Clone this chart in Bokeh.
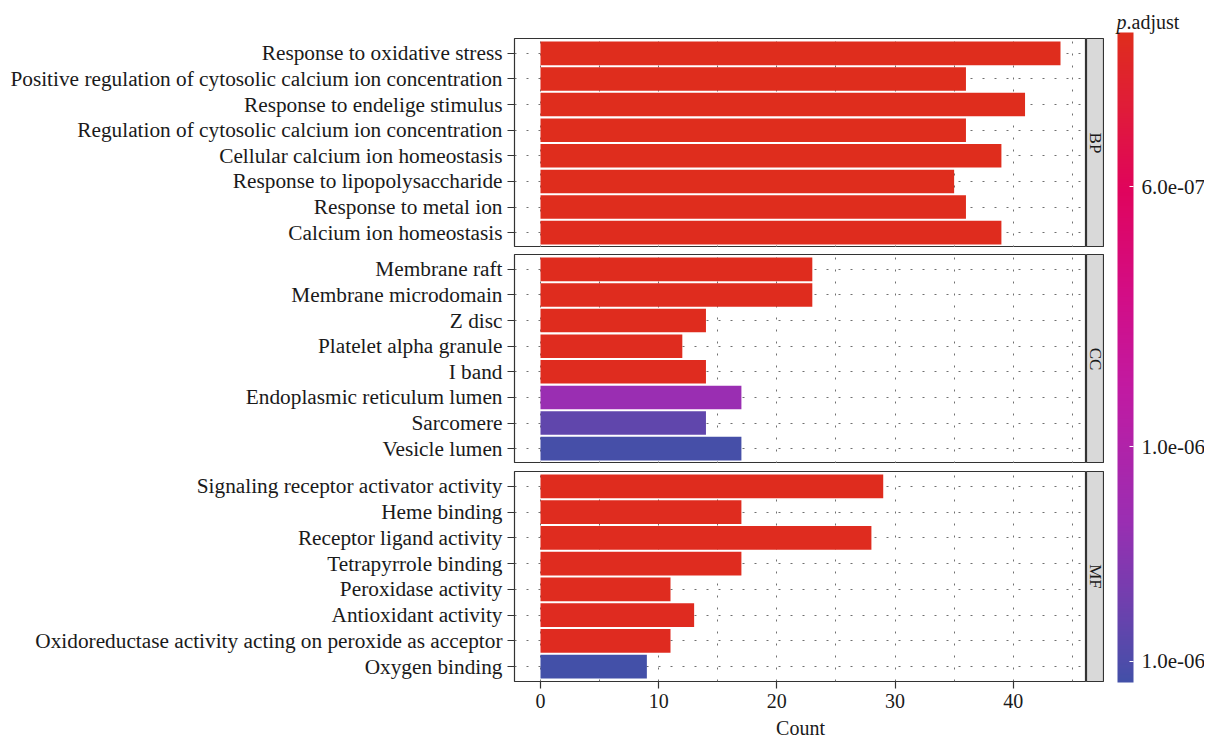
import numpy as np
import pandas as pd
from bokeh.plotting import figure
from bokeh.models import (ColumnDataSource, FactorRange, Range1d, LinearColorMapper,
                          ColorBar, FixedTicker, Label, AllLabels)
from bokeh.layouts import row, column
from bokeh.transform import transform
from bokeh.embed import file_html
from bokeh.resources import INLINE
from bokeh.core.properties import value

# ---------------- data ----------------
bp_terms = ["Response to oxidative stress",
            "Positive regulation of cytosolic calcium ion concentration",
            "Response to endelige stimulus",
            "Regulation of cytosolic calcium ion concentration",
            "Cellular calcium ion homeostasis",
            "Response to lipopolysaccharide",
            "Response to metal ion",
            "Calcium ion homeostasis"]
bp_counts = [44, 36, 41, 36, 39, 35, 36, 39]
bp_padj = [3.63e-7, 3.64e-7, 3.64e-7, 3.65e-7, 3.65e-7, 3.66e-7, 3.66e-7, 3.67e-7]

cc_terms = ["Membrane raft", "Membrane microdomain", "Z disc", "Platelet alpha granule",
            "I band", "Endoplasmic reticulum lumen", "Sarcomere", "Vesicle lumen"]
cc_counts = [23, 23, 14, 12, 14, 17, 14, 17]
cc_padj = [3.68e-7, 3.68e-7, 3.70e-7, 3.72e-7, 3.72e-7, 1.113e-6, 1.283e-6, 1.355e-6]

mf_terms = ["Signaling receptor activator activity", "Heme binding",
            "Receptor ligand activity", "Tetrapyrrole binding", "Peroxidase activity",
            "Antioxidant activity",
            "Oxidoreductase activity acting on peroxide as acceptor", "Oxygen binding"]
mf_counts = [29, 17, 28, 17, 11, 13, 11, 9]
mf_padj = [3.70e-7, 3.72e-7, 3.72e-7, 3.73e-7, 3.74e-7, 3.75e-7, 3.76e-7, 1.363e-6]

facets = ["BP", "CC", "MF"]
x_ticks = [0, 10, 20, 30, 40]
x_minor = [5, 15, 25, 35, 45]
cbar_ticks = [6.0e-7, 1.0e-6, 1.33e-6]
cbar_labels = ["6.0e-07", "1.0e-06", "1.0e-06"]

# ---------------- styling helpers ----------------
FONT = "Liberation Serif"
TXT = "#1a1a1a"
GRID = "#707070"
anchors = [(0.00, "#DF2D1D"), (0.12, "#E01B3A"), (0.24, "#E0045C"), (0.40, "#D30D85"),
           (0.55, "#C11AA2"), (0.75, "#9B2EB2"), (0.88, "#6F40AE"), (1.00, "#4350A8")]


def hex2rgb(h):
    return [int(h[i:i + 2], 16) for i in (1, 3, 5)]


def build_palette(n=256):
    pos = [a[0] for a in anchors]
    cols = np.array([hex2rgb(a[1]) for a in anchors], dtype=float)
    out = []
    for t in np.linspace(0, 1, n):
        rgb = [np.interp(t, pos, cols[:, k]) for k in range(3)]
        out.append("#%02x%02x%02x" % tuple(int(round(c)) for c in rgb))
    return out


top_to_bottom = build_palette()          # red (small p) -> blue (large p)
palette = list(reversed(top_to_bottom))  # index 0 = bottom of colour bar

all_padj = bp_padj + cc_padj + mf_padj
mapper = LinearColorMapper(palette=palette, low=-max(all_padj), high=-min(all_padj))

max_count = max(bp_counts + cc_counts + mf_counts)
x_range = Range1d(-0.05 * max_count, 1.05 * max_count)

panel_data = [(bp_terms, bp_counts, bp_padj), (cc_terms, cc_counts, cc_padj),
              (mf_terms, mf_counts, mf_padj)]
tops = [38, 7, 8]
frame_h = [209, 209, 210]
bottoms = [0, 0, 58]
total_h = sum(tops) + sum(frame_h) + sum(bottoms)

rows = []
for i, (terms, counts, padj) in enumerate(panel_data):
    df = pd.DataFrame({"term": terms, "count": counts, "padj": padj})
    df["neg_padj"] = -df["padj"]
    src = ColumnDataSource(df)
    yr = FactorRange(factors=list(reversed(terms)), range_padding=0.08,
                     range_padding_units="absolute")
    p = figure(y_range=yr, x_range=x_range, frame_width=572, frame_height=frame_h[i],
               min_border_left=514, min_border_right=0, min_border_top=tops[i],
               min_border_bottom=bottoms[i], toolbar_location=None, output_backend="svg")
    p.hbar(y="term", left=0, right="count", height=0.92, source=src,
           fill_color=transform("neg_padj", mapper), line_color=None)
    p.outline_line_color = "#333333"
    p.outline_line_width = 1.2
    p.xaxis.ticker = FixedTicker(ticks=x_ticks, minor_ticks=x_minor)
    p.xgrid.grid_line_color = GRID
    p.xgrid.grid_line_dash = "2 10"
    p.xgrid.minor_grid_line_color = GRID
    p.xgrid.minor_grid_line_dash = "2 10"
    p.ygrid.grid_line_color = GRID
    p.ygrid.grid_line_dash = "2 10"
    for ax in (p.xaxis[0], p.yaxis[0]):
        ax.axis_line_color = None
        ax.major_tick_line_color = "#333333"
        ax.major_tick_line_width = 1.2
        ax.major_tick_out = 7
        ax.major_tick_in = 0
        ax.minor_tick_line_color = None
        ax.major_label_text_font = FONT
        ax.major_label_text_color = TXT
    p.yaxis.major_label_text_font_size = "21.3px"
    p.xaxis.major_label_text_font_size = "20px"
    p.yaxis.major_label_standoff = 5
    p.xaxis.major_label_standoff = 5
    if i < 2:
        p.xaxis.visible = False
    else:
        p.xaxis.axis_label = "Count"
        p.xaxis.axis_label_text_font = FONT
        p.xaxis.axis_label_text_font_size = "20px"
        p.xaxis.axis_label_text_font_style = "normal"
        p.xaxis.axis_label_text_color = TXT
        p.xaxis.axis_label_standoff = 6

    s = figure(x_range=Range1d(0, 1), y_range=Range1d(0, 1), frame_width=18,
               frame_height=frame_h[i], min_border_left=0, min_border_right=0,
               min_border_top=tops[i], min_border_bottom=bottoms[i],
               toolbar_location=None, output_backend="svg",
               x_axis_location=None, y_axis_location=None)
    s.grid.visible = False
    s.background_fill_color = "#D9D9D9"
    s.outline_line_color = "#333333"
    s.outline_line_width = 1.2
    s.text(x=[0.5], y=[0.5], text=[facets[i]], angle=-np.pi / 2, text_align="center",
           text_baseline="middle", text_font=value(FONT), text_font_size="17px",
           text_color=TXT)
    rows.append(row(p, s, spacing=0))

cb = figure(width=100, height=total_h, toolbar_location=None, output_backend="svg",
            min_border=0, x_axis_location=None, y_axis_location=None,
            x_range=Range1d(0, 1), y_range=Range1d(0, 1))
cb.grid.visible = False
cb.outline_line_color = None
cbar = ColorBar(color_mapper=mapper, width=16, height=650, location=(13, total_h - 682),
                padding=0, ticker=FixedTicker(ticks=[-t for t in cbar_ticks]),
                major_label_overrides={-t: l for t, l in zip(cbar_ticks, cbar_labels)},
                major_label_policy=AllLabels(),
                major_tick_line_color="white", major_tick_in=4, major_tick_out=0,
                minor_tick_line_color=None, bar_line_color=None, border_line_color=None,
                label_standoff=8, major_label_text_font=FONT,
                major_label_text_font_size="21px", major_label_text_color=TXT,
                background_fill_color=None)
cb.add_layout(cbar, "center")
cb.add_layout(Label(x=12, y=total_h - 21, x_units="screen", y_units="screen", text="p",
                    text_font=FONT, text_font_style="italic", text_font_size="20px",
                    text_color=TXT, text_baseline="alphabetic"))
cb.add_layout(Label(x=22, y=total_h - 21, x_units="screen", y_units="screen",
                    text=".adjust", text_font=FONT, text_font_size="20px",
                    text_color=TXT, text_baseline="alphabetic"))

layout = row(column(*rows, spacing=0), cb, spacing=0)
open("out.html", "w").write(file_html(layout, INLINE))
